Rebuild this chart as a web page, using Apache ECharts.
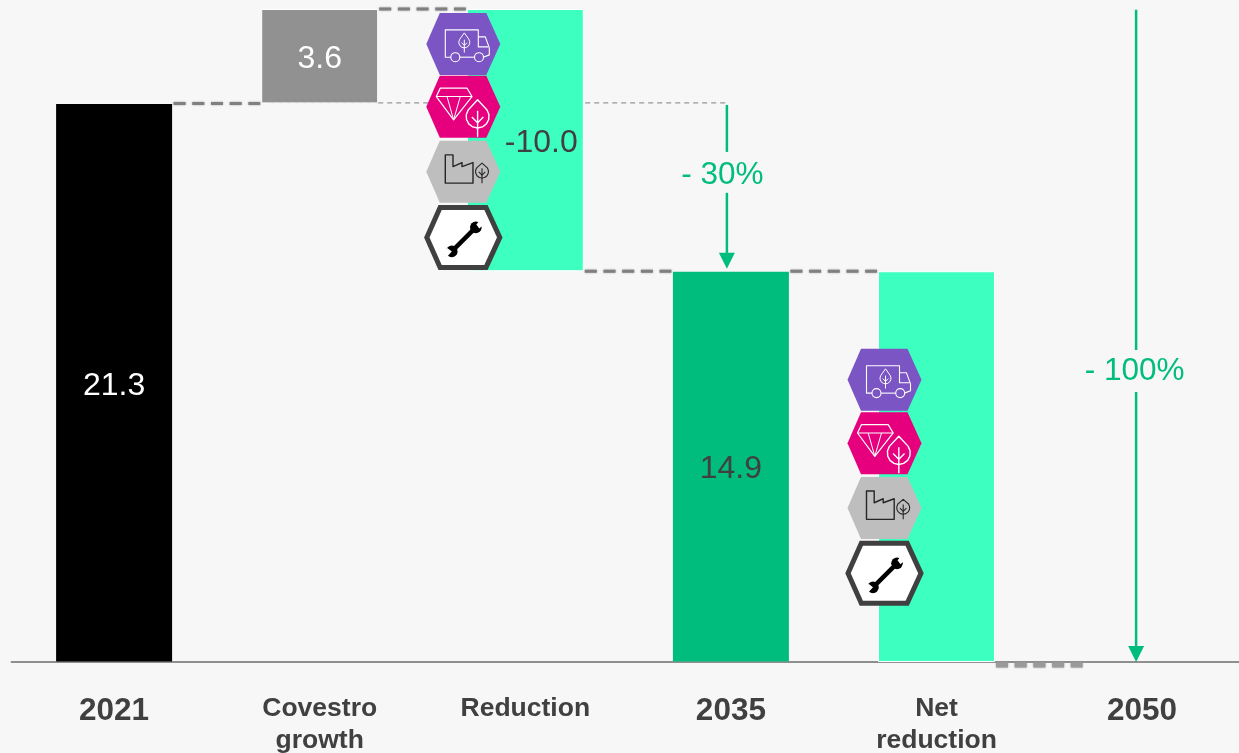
<!DOCTYPE html>
<html>
<head>
<meta charset="utf-8">
<style>html,body{margin:0;padding:0;background:#f7f7f7;overflow:hidden}#c{width:1239px;height:753px}</style>
<script src="https://cdn.jsdelivr.net/npm/echarts@6/dist/echarts.min.js"></script>
</head>
<body>
<div id="c"></div>
<script>
const categories = ['2021', 'Covestro\ngrowth', 'Reduction', '2035', 'Net\nreduction', '2050'];
const baseValues = [0, 21.3, 14.9, 0, 0, 0];
const barValues = [21.3, 3.6, 10.0, 14.9, 14.9, 0];
const barLabels = ['21.3', '3.6', '-10.0', '14.9', '', ''];
// [from category, to category, level]
const connectors = [[0, 1, 21.3], [1, 2, 24.9], [2, 3, 14.9], [3, 4, 14.9], [4, 5, 0]];
// [category, level, x offset from the band centre, icon kind]
const iconKinds = ['truck', 'diamond', 'factory', 'wrench'];
const icons = [
  [2, 23.57, -62, 0], [2, 21.17, -62, 1], [2, 18.69, -62, 2], [2, 16.19, -62, 3],
  [4, 10.76, -52, 0], [4, 8.34, -52, 1], [4, 5.87, -52, 2], [4, 3.38, -52, 3]
];
// [category, from level, to level, x offset, gap top, gap bottom]
const arrows = [[3, 21.24, 15.0, -4, 19.45, 17.89], [5, 24.87, 0, -6, 11.9, 10.3]];
const arrowLabels = ['- 30%', '- 100%'];
const arrowLabelShift = [-4.5, -1.5];
const arrowLabelLift = [3, 0];
const barColors = ['#000000', '#919191', '#3DFFC0', '#00BD7E', '#3DFFC0', '#3DFFC0'];

const BAR_W = 117, GREEN = '#00BD7E', DARK = '#404040';

function line(points, color, w, close) {
  return { type: close ? 'polygon' : 'polyline', shape: { points },
    style: { fill: 'none', stroke: color, lineWidth: w, lineJoin: 'round' } };
}
function circle(cx, cy, r, color, w, fill) {
  return { type: 'circle', shape: { cx, cy, r }, style: { fill: fill || 'none', stroke: color, lineWidth: w } };
}
function leaf(cx, topY, cy, r, bottomStem, color, w) {
  const pts = [[cx, topY]];
  for (let a = -35; a <= 215; a += 25) {
    const t = a * Math.PI / 180;
    pts.push([cx + r * Math.cos(t), cy + r * Math.sin(t)]);
  }
  return [
    line(pts, color, w, true),
    line([[cx, cy - r * 0.5], [cx, bottomStem]], color, w),
    line([[cx - r * 0.5, cy + r * 0.05], [cx, cy + r * 0.55], [cx + r * 0.5, cy + r * 0.05]], color, w)
  ];
}
function iconChildren(kind) {
  const hex = [[-37, 0], [-23.5, -31], [23, -31], [37, 0], [23, 31], [-23.5, 31]];
  const poly = (fill) => ({ type: 'polygon', shape: { points: hex }, style: { fill } });
  if (kind === 'truck') {
    const W = '#ffffff';
    return [poly('#7B55C3'),
      line([[-12.5, 13.3], [-18, 13.3], [-18, -14], [15, -14], [15, -7], [22, -7], [26, 4], [26, 11], [20, 13.3]], W, 1.1),
      line([[-3.5, 13.3], [11, 13.3]], W, 1.1), line([[15, -7], [15, 3], [25, 3]], W, 1.1),
      circle(-8, 13.3, 4.5, W, 1.1), circle(15.7, 13.3, 4.5, W, 1.1)
    ].concat(leaf(1, -11, -1.5, 5.5, 8.7, W, 1));
  }
  if (kind === 'diamond') {
    const W = '#ffffff';
    return [poly('#E6007E'),
      line([[-23, -18.7], [3.7, -18.7], [8.7, -10.3], [-9.7, 13], [-27, -10.3]], W, 1.2, true),
      line([[-27, -10.3], [8.7, -10.3]], W, 1.2),
      line([[-16.3, -10.3], [-9.7, 13], [-3, -10.3]], W, 1)
    ].concat(leaf(14.3, -7, 9.7, 11.5, 30, W, 1.4));
  }
  if (kind === 'factory') {
    const K = '#262626';
    return [poly('#BEBEBE'),
      line([[-18, -17], [-10.3, -17], [-10.3, -5.3], [-1.3, -9.3], [-1.3, -5.3], [9.7, -9.3], [9.7, 11.3], [-18, 11.3]], K, 1.4, true)
    ].concat(leaf(18.7, -8.7, -0.3, 6.5, 11.3, K, 1.1));
  }
  const hexW = hex.map(p => [p[0] * 36.5 / 37, p[1] * 30 / 31]);
  return [
    { type: 'polygon', shape: { points: hexW }, style: { fill: '#ffffff', stroke: DARK, lineWidth: 5, lineJoin: 'miter' } },
    line([[-9, 11.5], [10, -7.5]], '#000', 4.4),
    circle(-11.5, 14, 5.8, '#000', 0, '#000'),
    circle(12.5, -10, 5.8, '#000', 0, '#000'),
    { type: 'polygon', shape: { points: [[-16, 10.5], [-20, 15], [-16, 19], [-11.5, 14]] }, style: { fill: '#fff' } },
    { type: 'polygon', shape: { points: [[13, -13], [17, -17.5], [21, -13.5], [16, -9]] }, style: { fill: '#fff' } }
  ];
}

const chart = echarts.init(document.getElementById('c'));
chart.setOption({
  animation: false,
  backgroundColor: '#F7F7F7',
  grid: { left: 11.3, top: 9, width: 1233.6, height: 653, outerBoundsMode: 'none', containLabel: false },
  xAxis: {
    type: 'category', data: categories,
    axisTick: { show: false },
    axisLine: { lineStyle: { color: '#6E6E6E', width: 1.5 } },
    axisLabel: {
      interval: 0, margin: 31, verticalAlign: 'top', hideOverlap: false,
      formatter: v => /^\d{4}$/.test(v) ? '{y|' + v + '}' : v.split('\n').map(s => '{c|' + s + '}').join('\n'),
      rich: {
        y: { fontFamily: 'Liberation Sans', fontSize: 31.5, fontWeight: 'bold', color: DARK, lineHeight: 32, padding: [4, 0, 0, 0] },
        c: { fontFamily: 'Liberation Sans', fontSize: 26.5, fontWeight: 'bold', color: DARK, lineHeight: 32 }
      }
    }
  },
  yAxis: { type: 'value', min: 0, max: 24.9, show: false },
  series: [
    {
      type: 'custom', z: 1, clip: false, silent: true,
      data: connectors,
      encode: { x: 0, y: 2 },
      renderItem(params, api) {
        const a = api.coord([api.value(0), api.value(2)]);
        const b = api.coord([api.value(1), api.value(2)]);
        const last = api.value(2) === 0;
        const y = last ? a[1] + 3 : a[1];
        const x0 = a[0] + BAR_W / 2 + 1, x1 = b[0] - BAR_W / 2 - 1;
        return {
          type: 'line', shape: { x1: x0, y1: y, x2: x1, y2: y },
          style: {
            stroke: last ? '#9a9a9a' : '#808080', lineWidth: last ? 5 : 3,
            lineDash: [12, 6.7], shadowBlur: 2, shadowColor: '#9a9a9a'
          }
        };
      }
    },
    {
      type: 'custom', z: 1, clip: false, silent: true,
      data: [[1, barValues[0], 3, arrows[0][3]]],
      encode: { x: 0, y: 1 },
      renderItem(params, api) {
        const a = api.coord([api.value(0), api.value(1)]);
        const b = api.coord([api.value(2), api.value(1)]);
        const y = a[1] - 0.5;
        return {
          type: 'group', children: [
            { type: 'line', shape: { x1: a[0] - 49, y1: y, x2: a[0] + BAR_W / 2, y2: y },
              style: { stroke: '#d0d0d0', lineWidth: 1, lineDash: [5, 3] } },
            { type: 'line', shape: { x1: a[0] + BAR_W / 2, y1: y, x2: b[0] + api.value(3), y2: y },
              style: { stroke: '#808080', lineWidth: 1, lineDash: [5, 4] } }
          ]
        };
      }
    },
    {
      type: 'bar', stack: 'w', barWidth: BAR_W, silent: true,
      itemStyle: { color: 'transparent' },
      data: baseValues
    },
    {
      type: 'bar', stack: 'w', barWidth: BAR_W, silent: true,
      data: barValues.map((v, i) => ({
        value: v,
        itemStyle: { color: barColors[i], borderColor: i === 0 || i === 3 || v === 0 ? 'transparent' : '#ffffff', borderWidth: 1 },
        label: {
          show: !!barLabels[i],
          formatter: barLabels[i],
          position: 'inside',
          offset: i === 2 ? [16, 3] : [0, 3],
          fontFamily: 'Liberation Sans', fontSize: 32,
          color: i === 0 || i === 1 ? '#ffffff' : DARK
        }
      }))
    },
    {
      type: 'custom', z: 5, clip: false, silent: true,
      data: icons,
      encode: { x: 0, y: 1 },
      renderItem(params, api) {
        const c = api.coord([api.value(0), api.value(1)]);
        return { type: 'group', x: c[0] + api.value(2), y: c[1], children: iconChildren(iconKinds[api.value(3)]) };
      }
    },
    {
      type: 'custom', z: 5, clip: false, silent: true,
      data: arrows,
      encode: { x: 0, y: 1 },
      renderItem(params, api) {
        const i = params.dataIndex, dx = api.value(3);
        const top = api.coord([api.value(0), api.value(1)]);
        const tip = api.coord([api.value(0), api.value(2)]);
        const g1 = api.coord([api.value(0), api.value(4)]);
        const g2 = api.coord([api.value(0), api.value(5)]);
        const x = top[0] + dx;
        return {
          type: 'group', children: [
            { type: 'line', shape: { x1: x, y1: top[1], x2: x, y2: g1[1] }, style: { stroke: GREEN, lineWidth: 2.5 } },
            { type: 'line', shape: { x1: x, y1: g2[1], x2: x, y2: tip[1] - 14 }, style: { stroke: GREEN, lineWidth: 2.5 } },
            { type: 'polygon', shape: { points: [[x - 8, tip[1] - 16], [x + 8, tip[1] - 16], [x, tip[1]]] }, style: { fill: GREEN } },
            { type: 'text', x: x + arrowLabelShift[i], y: (g1[1] + g2[1]) / 2 + arrowLabelLift[i],
              style: { text: arrowLabels[i], fill: GREEN, fontFamily: 'Liberation Sans', fontSize: 31.5, align: 'center', verticalAlign: 'middle' } }
          ]
        };
      }
    }
  ]
});
</script>
</body>
</html>
